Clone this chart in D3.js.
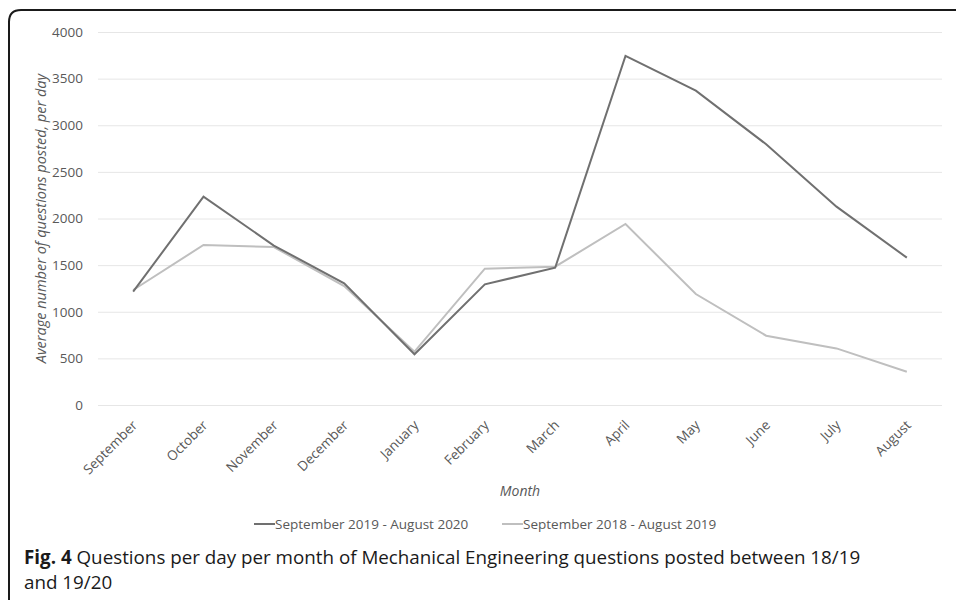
<!DOCTYPE html>
<html>
<head>
<meta charset="utf-8">
<script src="https://cdn.jsdelivr.net/npm/d3@7"></script>
<style>
  body { margin: 0; background: #fff; }
  svg { display: block; }
  svg text { font-family: "Open Sans", sans-serif; }
</style>
</head>
<body>
<div id="chart"></div>
<script>
const months = ["September", "October", "November", "December", "January", "February",
  "March", "April", "May", "June", "July", "August"];
const series1920 = [1215, 2234, 1710, 1305, 544, 1294, 1472, 3743, 3371, 2796, 2127, 1580];
const series1819 = [1233, 1716, 1694, 1276, 572, 1462, 1483, 1941, 1190, 743, 607, 357];
const yTicks = [0, 500, 1000, 1500, 2000, 2500, 3000, 3500, 4000];
const seriesNames = ["September 2019 - August 2020", "September 2018 - August 2019"];
const seriesColors = ["#707070", "#bfbfbf"];

const width = 956, height = 600;
const plot = { left: 98, right: 942, top: 32, bottom: 405 };

const svg = d3.select("#chart").append("svg")
  .attr("width", width)
  .attr("height", height);

// outer frame with rounded corner
svg.append("path")
  .attr("d", "M9,620 L9,22 Q9,10 21,10 L970,10")
  .attr("fill", "none")
  .attr("stroke", "#1a1a1a")
  .attr("stroke-width", 2);

const x = d3.scaleBand()
  .domain(months)
  .range([plot.left, plot.right]);

const y = d3.scaleLinear()
  .domain([0, 4000])
  .range([plot.bottom, plot.top]);

// gridlines + y labels
const yAxis = svg.append("g")
  .attr("transform", `translate(${plot.left},0)`)
  .call(d3.axisLeft(y).tickValues(yTicks).tickFormat(d3.format("d"))
    .tickSize(-(plot.right - plot.left)).tickPadding(15));
yAxis.select(".domain").remove();
yAxis.selectAll(".tick line").attr("stroke", "#e6e6e6").attr("stroke-width", 1);
yAxis.selectAll(".tick text")
  .attr("fill", "#595959")
  .style("font-size", "13.5px");

// x labels
const xAxis = svg.append("g")
  .attr("transform", `translate(0,${plot.bottom})`)
  .call(d3.axisBottom(x).tickSize(0).tickPadding(0));
xAxis.select(".domain").remove();
xAxis.selectAll(".tick text")
  .attr("fill", "#595959")
  .style("font-size", "13.5px")
  .attr("text-anchor", "end")
  .attr("dy", 0)
  .attr("transform", "translate(5,21) rotate(-45)");

// lines
const line = d3.line()
  .x((d, i) => x(months[i]) + x.bandwidth() / 2)
  .y(d => y(d));

[series1819, series1920].forEach((s, k) => {
  svg.append("path")
    .datum(s)
    .attr("fill", "none")
    .attr("stroke", k === 0 ? seriesColors[1] : seriesColors[0])
    .attr("stroke-width", 2)
    .attr("stroke-linejoin", "miter")
    .attr("d", line);
});

// axis titles
svg.append("text")
  .attr("transform", `translate(46,${(plot.top + plot.bottom) / 2}) rotate(-90)`)
  .attr("text-anchor", "middle")
  .attr("fill", "#595959")
  .style("font-size", "14.5px")
  .style("font-style", "italic")
  .text("Average number of questions posted, per day");

svg.append("text")
  .attr("x", 520)
  .attr("y", 496)
  .attr("text-anchor", "middle")
  .attr("fill", "#595959")
  .style("font-size", "14px")
  .style("font-style", "italic")
  .text("Month");

// legend
const legendX = [254, 502];
seriesNames.forEach((name, i) => {
  const g = svg.append("g").attr("transform", `translate(${legendX[i]},524)`);
  g.append("line")
    .attr("x1", 0).attr("x2", 21)
    .attr("y1", 0).attr("y2", 0)
    .attr("stroke", seriesColors[i])
    .attr("stroke-width", 2);
  g.append("text")
    .attr("x", 21)
    .attr("y", 5)
    .attr("fill", "#595959")
    .style("font-size", "13.5px")
    .text(name);
});

// caption
const cap = svg.append("text")
  .attr("x", 24)
  .attr("y", 564)
  .attr("fill", "#1a1a1a")
  .style("font-size", "18.8px");
cap.append("tspan").style("font-weight", "bold").text("Fig. 4");
cap.append("tspan").text(" Questions per day per month of Mechanical Engineering questions posted between 18/19");
svg.append("text")
  .attr("x", 24)
  .attr("y", 589)
  .attr("fill", "#1a1a1a")
  .style("font-size", "18.8px")
  .text("and 19/20");
</script>
</body>
</html>
